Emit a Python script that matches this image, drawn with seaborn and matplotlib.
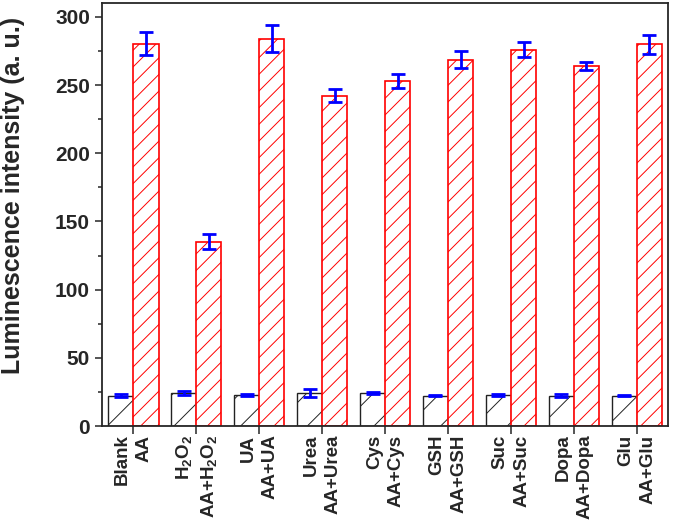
import numpy as np
import pandas as pd
import matplotlib
matplotlib.use('Agg')
import matplotlib.pyplot as plt
from matplotlib.ticker import MultipleLocator
import seaborn as sns

# interferent alone vs. AA + interferent
pair_labels = ['Blank\nAA', 'H$_2$O$_2$\nAA+H$_2$O$_2$',
               'UA\nAA+UA', 'Urea\nAA+Urea', 'Cys\nAA+Cys', 'GSH\nAA+GSH',
               'Suc\nAA+Suc', 'Dopa\nAA+Dopa', 'Glu\nAA+Glu']
alone_vals = [22.4, 24.4, 22.7, 24.6, 24.6, 22.4, 22.9, 22.4, 22.4]
alone_err = [1.0, 1.2, 0.6, 3.0, 0.8, 0.4, 1.0, 1.0, 0.5]
with_aa_vals = [280.4, 135.3, 284.0, 242.0, 253.1, 268.5, 276.0, 263.9, 279.7]
with_aa_err = [8.5, 5.5, 10.0, 4.8, 5.2, 6.3, 5.4, 3.2, 7.2]

df = pd.DataFrame({
    'pair': pair_labels * 2,
    'kind': ['alone'] * len(pair_labels) + ['with AA'] * len(pair_labels),
    'value': alone_vals + with_aa_vals,
})

sns.set_style('ticks')
plt.rcParams['font.family'] = ['Liberation Sans', 'DejaVu Sans']
plt.rcParams['font.weight'] = 'bold'
plt.rcParams['mathtext.fontset'] = 'custom'
plt.rcParams['mathtext.rm'] = 'Liberation Sans:bold'
plt.rcParams['mathtext.bf'] = 'Liberation Sans:bold'
plt.rcParams['mathtext.default'] = 'rm'
plt.rcParams['hatch.linewidth'] = 0.7

fig, ax = plt.subplots(figsize=(6.75, 5.21), dpi=100)
fig.subplots_adjust(left=0.151, right=0.99, top=0.994, bottom=0.182)

sns.barplot(data=df, x='pair', y='value', hue='kind', order=pair_labels,
            width=0.8, gap=0, legend=False, ax=ax, errorbar=None,
            palette=['white', 'white'])

styles = [('#222222', '/', 1.0), ('red', '//', 1.2)]
errs = [alone_err, with_aa_err]
for cont, (col, hatch, lw), err in zip(ax.containers, styles, errs):
    xs, ys = [], []
    for bar in cont:
        bar.set_facecolor('white')
        bar.set_edgecolor(col)
        bar.set_linewidth(lw)
        bar.set_hatch(hatch)
        xs.append(bar.get_x() + bar.get_width() / 2)
        ys.append(bar.get_height())
    ax.errorbar(xs, ys, yerr=err, fmt='none', ecolor='blue', elinewidth=2,
                capsize=5, capthick=2, zorder=5)

ax.set_ylim(0, 310)
ax.set_xlim(-0.5, len(pair_labels) - 0.5)
ax.yaxis.set_major_locator(MultipleLocator(50))
ax.yaxis.set_minor_locator(MultipleLocator(25))
ax.tick_params(axis='y', which='major', length=5, width=1.1, labelsize=15)
ax.tick_params(axis='y', which='minor', length=3, width=1.1)
ax.tick_params(axis='x', which='major', length=6, width=1.1, labelsize=13.5, pad=0)

ax.set_xticks(range(len(pair_labels)))
ax.set_xticklabels(pair_labels, rotation=90, ha='center', va='top',
                   multialignment='right', linespacing=1.35)
ax.set_xlabel('')
ax.set_ylabel('Luminescence intensity (a. u.)', fontsize=18, fontweight='bold')
ax.yaxis.set_label_coords(-0.136, 0.546)

for s in ax.spines.values():
    s.set_visible(True)
    s.set_linewidth(1.3)

fig.savefig('out.png', dpi=100)
